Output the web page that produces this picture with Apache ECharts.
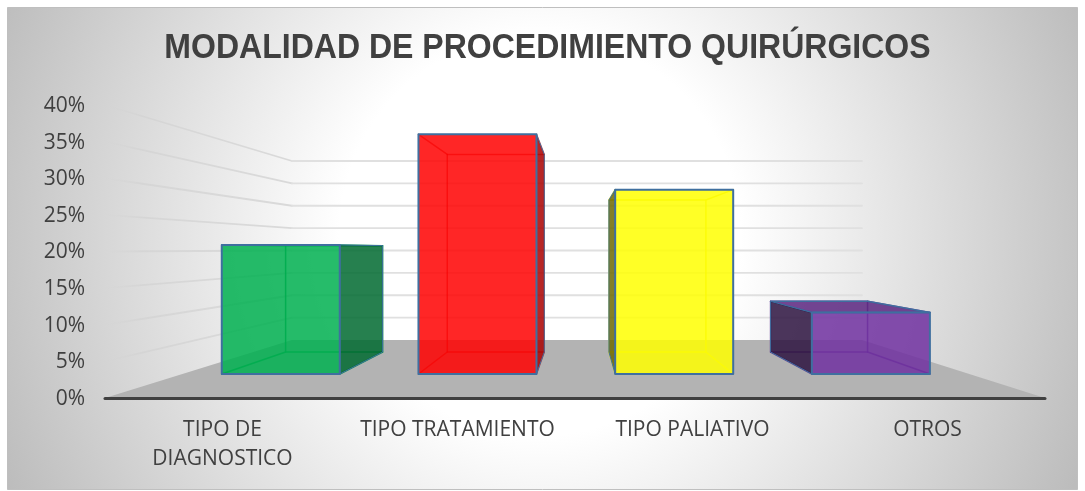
<!DOCTYPE html>
<html><head><meta charset="utf-8">
<style>html,body{margin:0;padding:0;background:#fff}#c{width:1085px;height:491px}</style>
<script src="https://cdn.jsdelivr.net/npm/echarts@6/dist/echarts.min.js"></script>
</head><body><div id="c"></div>
<script>
var titleText = 'MODALIDAD DE PROCEDIMIENTO QUIRÚRGICOS';
var categories = ['TIPO DE\nDIAGNOSTICO', 'TIPO TRATAMIENTO', 'TIPO PALIATIVO', 'OTROS'];
var values = [21, 39, 30, 10];
var wallTicks = [5, 10, 15, 20, 25, 30, 35, 40];
var frontColors = ['rgba(0,176,80,0.85)', 'rgba(255,0,0,0.85)', 'rgba(255,255,0,0.85)', 'rgba(112,48,160,0.85)'];
var sideColors = ['rgba(0,106,48,0.85)', 'rgba(170,0,0,0.85)', 'rgba(110,105,0,0.85)', 'rgba(45,19,64,0.85)'];
var topColors = ['rgba(0,140,64,0.85)', 'rgba(204,0,0,0.85)', 'rgba(204,204,0,0.85)', 'rgba(90,38,128,0.85)'];
var innerColors = ['rgba(0,150,70,0.9)', 'rgba(200,0,0,0.6)', 'rgba(225,225,30,0.9)', 'rgba(90,38,140,0.8)'];
var edgeColor = '#3f6f9f';

// Depth projection of the plotted front plane
var backLeft = 187, backRight = 183, backRise = 58, backTopDrop = 56;
var barFrontDepth = 0.414, barBackDepth = 0.793, barWidthShare = 0.6;

function projector(r) {
  var bottom = r.y + r.height, shrink = (r.height - backRise - backTopDrop) / r.height;
  return function (x, y, t) {
    var u = (x - r.x) / r.width;
    var L = r.x + backLeft * t, R = r.x + r.width - backRight * t;
    var s = 1 + (shrink - 1) * t;
    return [L + (R - L) * u, bottom - backRise * t - (bottom - y) * s];
  };
}
function line(pts, color, w) {
  return { type: 'polyline', shape: { points: pts }, silent: true, style: { fill: null, stroke: color, lineWidth: w, lineCap: 'round', lineJoin: 'round' } };
}
function poly(pts, fill, stroke, w) {
  return { type: 'polygon', shape: { points: pts }, silent: true, style: { fill: fill, stroke: stroke || null, lineWidth: w || 0, lineJoin: 'round' } };
}

function renderWall(params, api) {
  var r = params.coordSys, P = projector(r);
  var p = api.coord([0, api.value(0)]);
  var a = P(r.x, p[1], 0), b = P(r.x, p[1], 1), c = P(r.x + r.width, p[1], 1);
  var grad = new echarts.graphic.LinearGradient(a[0], 0, b[0], 0,
    [{ offset: 0, color: 'rgba(210,210,210,0)' }, { offset: 0.2, color: 'rgba(210,210,210,0.7)' }, { offset: 1, color: '#d9d9d9' }], true);
  return { type: 'group', children: [line([a, b], grad, 1.8), line([b, c], '#e0e0e0', 1.8)] };
}
function renderFloor(params, api) {
  var r = params.coordSys, P = projector(r), y0 = r.y + r.height;
  return poly([P(r.x, y0, 0), P(r.x + r.width, y0, 0), P(r.x + r.width, y0, 1), P(r.x, y0, 1)], '#b3b3b3');
}
function renderBar(params, api) {
  var r = params.coordSys, P = projector(r), i = api.value(0);
  var top = api.coord([i, api.value(1)]), base = api.coord([i, 0]);
  var half = api.size([1, 0])[0] * barWidthShare / 2;
  var x0 = top[0] - half, x1 = top[0] + half;
  var f = barFrontDepth, k = barBackDepth;
  var fbl = P(x0, base[1], f), fbr = P(x1, base[1], f), ftl = P(x0, top[1], f), ftr = P(x1, top[1], f);
  var bbl = P(x0, base[1], k), bbr = P(x1, base[1], k), btl = P(x0, top[1], k), btr = P(x1, top[1], k);
  var kids = [];
  var inner = innerColors[i];
  // hidden edges seen through the translucent front
  kids.push(line([btl, btr, bbr, bbl, btl], inner, 1.5));
  kids.push(line([fbl, bbl], inner, 1.5), line([fbr, bbr], inner, 1.5));
  kids.push(line([ftl, btl], inner, 1.5), line([ftr, btr], inner, 1.5));
  if (btl[1] < ftl[1] - 0.5) kids.push(poly([ftl, ftr, btr, btl], topColors[i], edgeColor, 1.5));
  if (bbr[0] > fbr[0]) kids.push(poly([fbr, bbr, btr, ftr], sideColors[i], edgeColor, 1));
  if (bbl[0] < fbl[0]) kids.push(poly([fbl, bbl, btl, ftl], sideColors[i], edgeColor, 1));
  kids.push(poly([fbl, fbr, ftr, ftl], frontColors[i], edgeColor, 2));
  return { type: 'group', children: kids };
}

var chart = echarts.init(document.getElementById('c'), null, { renderer: 'canvas' });
chart.setOption({
  animation: false,
  graphic: [{
    type: 'rect', z: -10, silent: true,
    shape: { x: 7.5, y: 7.5, width: 1070, height: 482 },
    style: {
      fill: new echarts.graphic.RadialGradient(540, 235, 590, [
        { offset: 0, color: '#ffffff' }, { offset: 0.34, color: '#ffffff' }, { offset: 1, color: '#bcbcbc' }], true),
      stroke: '#bfbfbf', lineWidth: 1
    }
  }, {
    type: 'text', z: 5, silent: true,
    x: 547.5, y: 48.5, scaleX: 0.915,
    style: {
      text: titleText, align: 'center', verticalAlign: 'middle',
      font: 'bold 35px "Liberation Sans"', fill: '#404040'
    }
  }],
  grid: { left: 105, right: 40, top: 105, height: 293 },
  xAxis: {
    type: 'category', data: categories, z: 3,
    axisTick: { show: false },
    axisLine: { lineStyle: { color: '#404040', width: 3, cap: 'round' } },
    axisLabel: { interval: 0, hideOverlap: false, fontFamily: 'Open Sans', fontSize: 21, color: '#404040', margin: 18, lineHeight: 29 }
  },
  yAxis: {
    type: 'value', min: 0, max: 40, interval: 5,
    splitLine: { show: false }, axisLine: { show: false }, axisTick: { show: false },
    axisLabel: { fontFamily: 'Open Sans', fontSize: 21, color: '#404040', margin: 20, verticalAlign: 'top', lineHeight: 2, formatter: '{value}%' }
  },
  series: [
    { type: 'custom', z: 1, coordinateSystem: 'cartesian2d', renderItem: renderFloor, data: [[0, 0]], silent: true },
    { type: 'custom', z: 2, coordinateSystem: 'cartesian2d', renderItem: renderWall, encode: { y: 0 }, data: wallTicks.map(function (v) { return [v]; }), silent: true },
    { type: 'custom', z: 4, coordinateSystem: 'cartesian2d', renderItem: renderBar, encode: { x: 0, y: 1 }, data: values.map(function (v, i) { return [i, v]; }), silent: true }
  ]
});
</script></body></html>
